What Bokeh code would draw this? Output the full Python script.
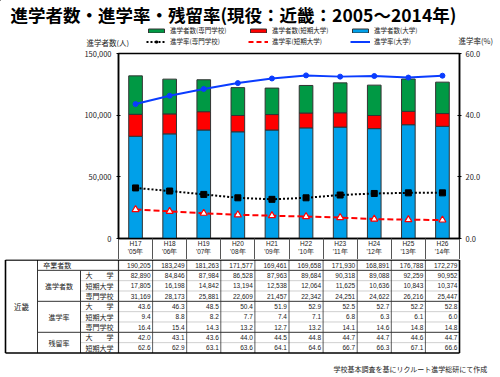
from bokeh.plotting import figure
from bokeh.models import (Range1d, LinearAxis, FixedTicker, NumeralTickFormatter,
                          Legend, LegendItem, ColumnDataSource)
from bokeh.layouts import column
from bokeh.embed import file_html
from bokeh.resources import INLINE
from bokeh.core.properties import value

# ---------------- data ----------------
era = ["H17", "H18", "H19", "H20", "H21", "H22", "H23", "H24", "H25", "H26"]
years = ["'05年", "'06年", "'07年", "'08年", "'09年", "'10年", "'11年", "'12年", "'13年", "'14年"]
graduates = [190205, 183249, 181263, 171577, 169461, 169658, 171930, 168891, 176788, 172279]
univ_n = [82890, 84846, 87984, 86528, 87963, 89684, 90318, 89088, 92259, 90952]
junior_n = [17805, 16198, 14842, 13194, 12538, 12064, 11625, 10636, 10843, 10374]
voc_n = [31169, 28173, 25881, 22609, 21457, 22342, 24251, 24622, 26216, 25447]
univ_rate = [43.6, 46.3, 48.5, 50.4, 51.9, 52.9, 52.5, 52.7, 52.2, 52.8]
junior_rate = [9.4, 8.8, 8.2, 7.7, 7.4, 7.1, 6.8, 6.3, 6.1, 6.0]
voc_rate = [16.4, 15.4, 14.3, 13.2, 12.7, 13.2, 14.1, 14.6, 14.8, 14.8]
univ_stay = [42.0, 43.1, 43.6, 44.0, 44.5, 44.8, 44.7, 44.7, 44.6, 44.7]
junior_stay = [62.6, 62.9, 63.1, 63.6, 64.1, 64.6, 66.7, 66.3, 67.1, 66.6]

left_ticks = [0, 50000, 100000, 150000]
right_ticks = [0, 20, 40, 60]

TITLE = "進学者数・進学率・残留率(現役：近畿：2005～2014年)"
FOOT = "学校基本調査を基にリクルート進学総研にて作成"
LEFT_LABEL = "進学者数(人)"
RIGHT_LABEL = "進学率(%)"
legend_labels = ["進学者数(専門学校)", "進学者数(短期大学)", "進学者数(大学)",
                 "進学率(専門学校)", "進学率(短期大学)", "進学率(大学)"]
group_labels = ["進学者数", "進学率", "残留率"]
sub_labels = ["大　　学", "短期大学", "専門学校", "大　　学", "短期大学", "専門学校", "大　　学", "短期大学"]
total_label = "卒業者数"
region_label = "近畿"

FONT = "Noto Sans CJK JP"
NUMFONT = "Liberation Sans"
BLUE, RED, GREEN = "#00a0e9", "#ff0000", "#009944"
LBLUE = "#0a3cff"
TXT = "#222222"
OUTL = "#333333"

n = len(era)
xs = [i + 0.5 for i in range(n)]
W = 500

# ---------------- top strip: title, legend, axis names ----------------
TOP_H = 47
t = figure(width=W, height=TOP_H, x_range=Range1d(0, W), y_range=Range1d(TOP_H, 0),
           output_backend="svg", toolbar_location=None, min_border=0, frame_align=False,
           x_axis_location=None, y_axis_location=None)
t.xgrid.visible = False
t.ygrid.visible = False
t.outline_line_color = None

t.text(x=[10], y=[14], text=[TITLE], text_align="left", text_baseline="middle",
       text_font=value(FONT), text_font_size="17.5px", text_font_style="bold", text_color="black")
t.text(x=[86, 458], y=[42, 40], text=[LEFT_LABEL, RIGHT_LABEL], text_align="left",
       text_baseline="middle", text_font=value(FONT), text_font_size="7.5px", text_color=TXT)

# legend proxies (placed outside the visible range; only their legend swatches show)
OFF = [-1000]
g_voc = t.vbar(x=OFF, top=OFF, width=1, fill_color=GREEN, line_color=OUTL)
g_jun = t.vbar(x=OFF, top=OFF, width=1, fill_color=RED, line_color=OUTL)
g_uni = t.vbar(x=OFF, top=OFF, width=1, fill_color=BLUE, line_color=OUTL)
gl_voc = t.line(x=OFF, y=OFF, color="black", line_width=2, line_dash="2 2")
gs_voc = t.scatter(x=OFF, y=OFF, marker="square", size=5, color="black")
gl_jun = t.line(x=OFF, y=OFF, color=RED, line_width=2, line_dash="5 3")
gl_uni = t.line(x=OFF, y=OFF, color=LBLUE, line_width=2)

legend = Legend(items=[
    LegendItem(label=legend_labels[0], renderers=[g_voc]),
    LegendItem(label=legend_labels[1], renderers=[g_jun]),
    LegendItem(label=legend_labels[2], renderers=[g_uni]),
    LegendItem(label=legend_labels[3], renderers=[gl_voc, gs_voc]),
    LegendItem(label=legend_labels[4], renderers=[gl_jun]),
    LegendItem(label=legend_labels[5], renderers=[gl_uni]),
], location=(146, 1), orientation="horizontal", ncols=3,
    padding=0, margin=0, spacing=1, glyph_width=20, glyph_height=5,
    label_height=8, label_width=77, label_standoff=4,
    label_text_font=FONT, label_text_font_size="6.5px", label_text_color=TXT,
    border_line_color=None, background_fill_alpha=0)
t.add_layout(legend)

# ---------------- chart ----------------
src = ColumnDataSource(dict(x=xs, univ=univ_n, junior=junior_n, voc=voc_n,
                            ur=univ_rate, jr=junior_rate, vr=voc_rate))

p = figure(width=W, height=212, x_range=Range1d(0, n), y_range=Range1d(0, 150000),
           output_backend="svg", toolbar_location=None, frame_align=False,
           x_axis_location=None, y_axis_location=None,
           min_border_left=118, min_border_right=41, min_border_top=6, min_border_bottom=21)
p.xgrid.visible = False
p.ygrid.visible = False
p.outline_line_color = "black"
p.outline_line_width = 1.5
p.extra_y_ranges = {"rate": Range1d(0, 60)}

bars = p.vbar_stack(["univ", "junior", "voc"], x="x", width=0.4, source=src,
                    fill_color=[BLUE, RED, GREEN], line_color=OUTL, line_width=1)

p.line("x", "vr", source=src, y_range_name="rate", color="black", line_width=2, line_dash="2 2")
p.scatter("x", "vr", source=src, y_range_name="rate", marker="square", size=6, color="black")
p.line("x", "jr", source=src, y_range_name="rate", color=RED, line_width=2, line_dash="6 3")
p.scatter("x", "jr", source=src, y_range_name="rate", marker="triangle", size=7,
          fill_color="white", line_color=RED, line_width=1.2)
p.line("x", "ur", source=src, y_range_name="rate", color=LBLUE, line_width=2)
p.scatter("x", "ur", source=src, y_range_name="rate", marker="circle", size=5, color=LBLUE)

xax = LinearAxis(ticker=FixedTicker(ticks=xs, minor_ticks=list(range(n + 1))),
                 major_label_overrides={x: f"{e}\n{y}" for x, e, y in zip(xs, era, years)},
                 major_tick_in=0, major_tick_out=0, minor_tick_in=-21, minor_tick_out=0,
                 minor_tick_line_color="#555555", minor_tick_line_width=1,
                 axis_line_color="black", axis_line_width=1.5, major_label_standoff=1,
                 major_label_text_font=NUMFONT, major_label_text_font_size="6.5px",
                 major_label_text_color=TXT)
p.add_layout(xax, "below")

yax = LinearAxis(ticker=FixedTicker(ticks=left_ticks), formatter=NumeralTickFormatter(format="0,0"),
                 major_tick_in=2, major_tick_out=2, major_label_standoff=5,
                 axis_line_color="black", axis_line_width=1.5,
                 major_label_text_font=FONT, major_label_text_font_size="7.5px",
                 major_label_text_color=TXT)
p.add_layout(yax, "left")

rax = LinearAxis(y_range_name="rate", ticker=FixedTicker(ticks=right_ticks),
                 formatter=NumeralTickFormatter(format="0.0"),
                 major_tick_in=2, major_tick_out=2, major_label_standoff=4,
                 axis_line_color="black", axis_line_width=1.5,
                 major_label_text_font=FONT, major_label_text_font_size="7.5px",
                 major_label_text_color=TXT)
p.add_layout(rax, "right")

# ---------------- table ----------------
COLW = 34.1          # px per year column
ROWH = 10.33         # px per table row
TAB_TOP = 259.5      # px (page) of the table top border
B_TOP, B_H = 259, 118
X_L = (5 - 118) / COLW       # table left border
XG = (37 - 118) / COLW       # group column left edge
XS = (80 - 118) / COLW       # sub column left edge
NROW = 9

q = figure(width=W, height=B_H,
           x_range=Range1d(-118 / COLW, (W - 118) / COLW),
           y_range=Range1d((B_TOP + B_H - TAB_TOP) / ROWH, (B_TOP - TAB_TOP) / ROWH),
           output_backend="svg", toolbar_location=None, min_border=0, frame_align=False,
           x_axis_location=None, y_axis_location=None)
q.xgrid.visible = False
q.ygrid.visible = False
q.outline_line_color = None

# inner lines
q.segment(x0=[XS] * 5, y0=[2, 3, 5, 6, 8], x1=[n] * 5, y1=[2, 3, 5, 6, 8],
          line_color="#777777", line_width=0.7, line_dash="1 1")
q.segment(x0=list(range(1, n)), y0=[0] * (n - 1), x1=list(range(1, n)), y1=[NROW] * (n - 1),
          line_color=OUTL, line_width=0.8)
q.segment(x0=[XG] * 3, y0=[1, 4, 7], x1=[n] * 3, y1=[1, 4, 7], line_color=OUTL, line_width=1)
q.segment(x0=[XG, XS, 0], y0=[0, 1, 0], x1=[XG, XS, 0], y1=[NROW, NROW, NROW],
          line_color=OUTL, line_width=[1, 1, 1.2])
# outer border
q.segment(x0=[X_L, X_L, X_L, n], y0=[0, NROW, 0, 0], x1=[n, n, X_L, n], y1=[0, NROW, NROW, NROW],
          line_color="black", line_width=1.6)

rows = [
    [f"{v:,}" for v in graduates],
    [f"{v:,}" for v in univ_n],
    [f"{v:,}" for v in junior_n],
    [f"{v:,}" for v in voc_n],
    [f"{v:.1f}" for v in univ_rate],
    [f"{v:.1f}" for v in junior_rate],
    [f"{v:.1f}" for v in voc_rate],
    [f"{v:.1f}" for v in univ_stay],
    [f"{v:.1f}" for v in junior_stay],
]
tx, ty, tt = [], [], []
for r, vals in enumerate(rows):
    for i, s in enumerate(vals):
        tx.append(i + 1 - 0.06)
        ty.append(r + 0.5)
        tt.append(s)
q.text(x=tx, y=ty, text=tt, text_align="right", text_baseline="middle",
       text_font=value(NUMFONT), text_font_size="6.5px", text_color=TXT)

q.text(x=[(XS + 0) / 2] * len(sub_labels), y=[r + 1.5 for r in range(len(sub_labels))],
       text=sub_labels, text_align="center", text_baseline="middle",
       text_font=value(FONT), text_font_size="7px", text_color=TXT)
q.text(x=[(XG + XS) / 2] * 3, y=[2.5, 5.5, 8.0], text=group_labels,
       text_align="center", text_baseline="middle",
       text_font=value(FONT), text_font_size="7px", text_color=TXT)
q.text(x=[XG + 0.17], y=[0.5], text=[total_label], text_align="left", text_baseline="middle",
       text_font=value(FONT), text_font_size="7px", text_color=TXT)
q.text(x=[(X_L + XG) / 2], y=[NROW / 2], text=[region_label], text_align="center",
       text_baseline="middle", text_font=value(FONT), text_font_size="7.5px", text_color=TXT)

q.text(x=[(487 - 118) / COLW], y=[(368 - TAB_TOP) / ROWH], text=[FOOT], text_align="right",
       text_baseline="middle", text_font=value(FONT), text_font_size="7px", text_color=TXT)

layout = column(t, p, q, spacing=0)
open("out.html", "w").write(file_html(layout, INLINE))
